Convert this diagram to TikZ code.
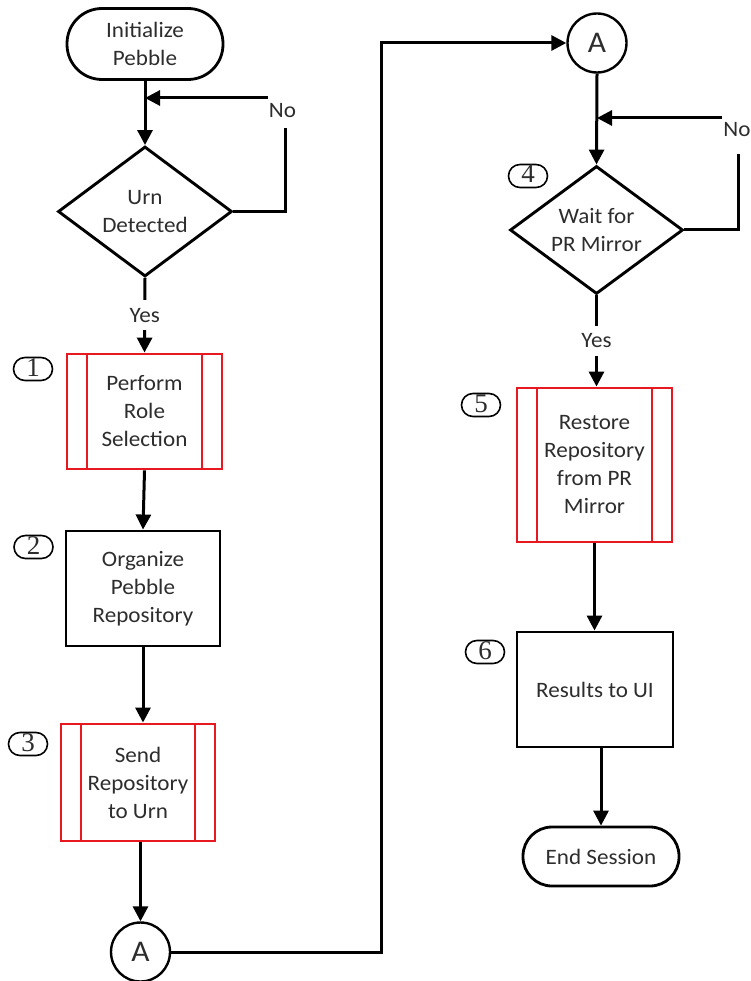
\documentclass[tikz,border=0pt]{standalone}
\usepackage{fontspec}
\setmainfont{Carlito}[FakeStretch=1.05]
\newfontfamily\numfont{Liberation Serif}
\usetikzlibrary{shapes.geometric,arrows.meta}
\definecolor{procred}{RGB}{232,24,32}
\definecolor{txt}{RGB}{45,45,45}
\begin{document}
\begin{tikzpicture}[x=1pt,y=-1pt,
  every node/.style={font=\fontsize{22}{28}\selectfont, text=txt, align=center},
  flow/.style={line width=3pt, draw=black},
  arrow/.style={flow, -{Triangle[length=15pt,width=15pt]}},
  term/.style={draw=black, line width=2.8pt, minimum width=156pt, inner sep=0},
  process/.style={draw=black, line width=2.9pt, minimum width=155pt, minimum height=115pt, inner sep=0},
  subproc/.style={draw=procred, line width=2.9pt, minimum width=155pt, minimum height=115pt, inner sep=0,
    path picture={\draw[procred, line width=2.9pt]
      ([xshift=20pt]path picture bounding box.north west) -- ([xshift=20pt]path picture bounding box.south west)
      ([xshift=-20pt]path picture bounding box.north east) -- ([xshift=-20pt]path picture bounding box.south east);}},
  decision/.style={diamond, draw=black, line width=2.9pt, minimum width=174pt, minimum height=130pt, inner sep=0, aspect=1.34},
  offpage/.style={circle, draw=black, line width=2.4pt, minimum size=59pt, inner sep=0, font=\fontsize{30}{30}\selectfont},
  stepnum/.style={draw=black, line width=1.6pt, rounded corners=11.5pt, minimum width=39pt, minimum height=23pt, inner sep=0, text height=14pt, text depth=0pt, font=\numfont\fontsize{27}{27}\selectfont},
  lbl/.style={fill=white, inner sep=0pt, minimum height=30pt}
]
\fill[white] (0,0) rectangle (751,981);
\useasboundingbox (0,0) rectangle (751,981);

% left column
\node[term, minimum height=71pt, rounded corners=35pt] (start) at (145,44) {Initialize\\Pebble};
\node[decision] (urn) at (145,211.5) {Urn\\Detected};
\node[subproc] (s1) at (144.5,411.5) {Perform\\Role\\Selection};
\node[process, minimum width=154pt] (s2) at (143,588.5) {Organize\\Pebble\\Repository};
\node[subproc, minimum width=154pt, minimum height=117pt] (s3) at (138,782.5) {Send\\Repository\\to Urn};
\node[offpage] (abot) at (140.5,952) {A};

% right column
\node[offpage] (atop) at (597,43) {A};
\node[decision, minimum width=173pt, minimum height=128pt] (wait) at (596.5,230) {Wait for\\PR Mirror};
\node[subproc, minimum height=154pt] (s5) at (594.5,465) {Restore\\Repository\\from PR\\Mirror};
\node[process, minimum width=156pt] (s6) at (595,689.5) {Results to UI};
\node[term, minimum height=59pt, rounded corners=29pt] (end) at (601,856.5) {End Session};

% step numbers
\node[stepnum] (n1) at (33,369) {1};
\node[stepnum] (n2) at (33.5,547) {2};
\node[stepnum] (n3) at (28,744) {3};
\node[stepnum] (n4) at (528,176) {4};
\node[stepnum] (n5) at (481,405) {5};
\node[stepnum] (n6) at (485,652) {6};

% loop-back joins and corners
\coordinate (j1) at (145,98);
\coordinate (c1) at (285,98);
\coordinate (j2) at (597,118);
\coordinate (c2) at (738,118);
\coordinate (bend) at (381,43);

% connectors, left column
\draw[arrow] (start.south) -- (urn.north);
\draw[arrow] (urn.east) -| (c1) -- (j1);
\node[fill=white, inner sep=0pt, anchor=base, text height=24pt, text depth=10pt, minimum width=30pt] (no1) at (282.5,118) {No};
\draw[arrow] (urn.south) -- node[lbl] (yes1) {Yes} (s1.north);
\draw[arrow] (s1.south) -- (s2.north);
\draw[arrow] (s2.south) -- (s2.south |- s3.north);
\draw[arrow] (abot.north |- s3.south) -- (abot.north);

% off-page link
\draw[arrow] (abot.east) -| (bend) -- (atop.west);

% connectors, right column
\draw[arrow] (atop.south) -- (wait.north);
\draw[arrow] (wait.east) -| (c2) -- (j2);
\node[fill=white, inner sep=0pt, anchor=base, text height=22pt, text depth=17pt, minimum width=30pt] (no2) at (737,137) {No};
\draw[arrow] (wait.south) -- node[lbl] (yes2) {Yes} (wait.south |- s5.north);
\draw[arrow] (s5.south) -- (s5.south |- s6.north);
\draw[arrow] (end.north |- s6.south) -- (end.north);
\end{tikzpicture}
\end{document}
